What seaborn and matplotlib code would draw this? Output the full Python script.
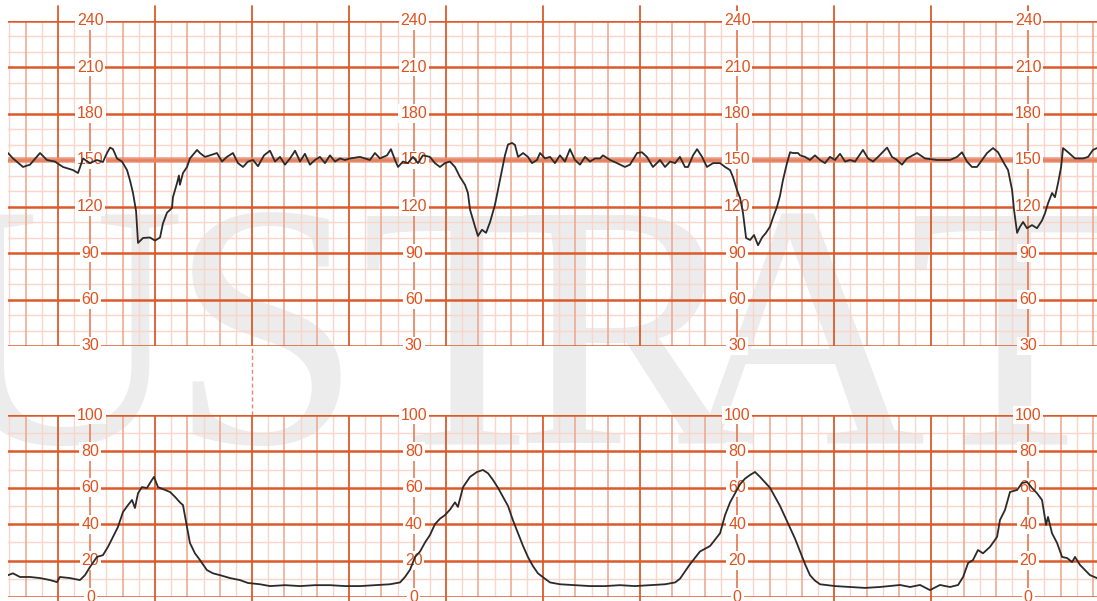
import numpy as np
import pandas as pd
import matplotlib
matplotlib.use("Agg")
import matplotlib.pyplot as plt
import seaborn as sns

# ---------------- data ----------------
fhr_time = [-30.9, -27.8, -21.6, -17.3, -11.1, -6.8, -1.9, 3.1, 9.3, 12.4, 15.5, 19.8, 24.1, 27.8,
            30.3, 32.2, 34.0, 36.5, 39.6, 42.7, 44.5, 46.4, 48.3, 49.5, 52.6, 56.9, 60.0, 63.1,
            64.9, 67.4, 70.5, 71.1, 73.6, 74.8, 75.4, 77.3, 79.8, 81.6, 86.0, 87.8, 90.9, 94.0,
            98.3, 101.4, 104.5, 108.2, 111.3, 114.4, 117.5, 120.6, 123.7, 127.4, 131.1, 134.2,
            137.3, 140.4, 143.5, 146.6, 149.7, 152.7, 155.8, 158.9, 162.0, 165.1, 168.2, 171.3,
            174.4, 177.5, 180.6, 186.8, 192.9, 196.0, 199.1, 203.5, 205.9, 208.4, 210.3, 213.3,
            216.4, 219.5, 222.6, 225.7, 230.0, 233.1, 236.2, 239.3, 242.4, 245.5, 248.6, 251.7,
            253.5, 254.8, 257.9, 259.7, 262.2, 264.7, 267.2, 270.2, 273.3, 276.4, 278.3, 280.8,
            282.6, 284.5, 287.6, 290.6, 293.1, 296.2, 298.1, 301.2, 304.3, 307.3, 310.4, 313.5,
            316.6, 319.7, 322.8, 325.9, 329.0, 332.1, 335.2, 337.0, 341.4, 345.7, 350.6, 353.7,
            358.1, 361.1, 364.2, 367.9, 372.3, 375.4, 378.5, 381.6, 384.6, 387.7, 389.6, 392.7,
            395.2, 398.3, 401.3, 405.1, 409.4, 412.5, 415.6, 417.4, 419.9, 421.8, 423.6, 425.5,
            428.0, 430.4, 432.9, 435.4, 437.8, 440.3, 442.2, 444.6, 446.5, 448.3, 450.8, 452.7,
            454.5, 457.6, 458.9, 462.0, 465.0, 468.1, 471.2, 474.3, 477.4, 480.5, 483.6, 486.7,
            489.8, 492.9, 497.8, 500.9, 504.0, 507.1, 512.7, 515.7, 518.8, 521.9, 525.0, 531.2,
            536.2, 543.6, 551.6, 556.0, 559.0, 562.1, 565.2, 568.3, 571.4, 574.5, 578.2, 581.3,
            584.4, 587.5, 590.0, 591.2, 593.1, 594.9, 596.8, 599.2, 602.3, 605.4, 608.5, 610.4,
            612.2, 614.7, 616.5, 618.4, 620.3, 621.5, 624.6, 628.9, 633.9, 637.0, 640.0, 642.5]
fhr_bpm = [154.5, 151, 145.5, 147, 154.5, 150, 149, 145.5, 143.5, 141.6, 151, 148, 150, 148.7,
           154.5, 158, 157, 151, 149, 143.5, 137, 128.7, 117, 96.5, 99.7, 100, 98, 100,
           109, 116, 119, 126, 135, 140, 134, 141.6, 145.5, 151, 156.5, 154.5, 152, 153,
           154.5, 149, 152, 154.5, 148, 145.5, 149, 150, 146, 153, 156, 149,
           152, 147, 151, 156, 149, 154, 147, 150, 152, 148, 153, 149,
           151, 150, 151, 152, 150, 154.5, 151, 153, 157, 150, 145.5, 149,
           148, 152, 148, 153, 152, 148, 145.5, 148, 149, 145.5, 139, 134,
           128.7, 118, 107, 101, 105, 103, 110, 121, 137, 153, 160, 161,
           159.7, 152, 154.5, 152, 148, 150, 154.5, 151, 152, 148, 153, 149,
           157, 150, 147, 152, 149, 151, 151, 153, 150, 148, 145.5, 147,
           154.5, 155, 152, 145.5, 150, 145.5, 149, 148, 152, 145.5, 145.5, 153,
           157, 152, 145.5, 148, 148, 145.5, 143.5, 139, 130.6, 125.5, 115.8, 99.7,
           98.4, 101.6, 95, 100, 103, 107, 113, 119.7, 127, 137, 148, 155,
           154.5, 154.5, 153, 152, 150, 153, 150, 148, 152, 150, 154, 149,
           150, 149, 156.5, 151, 149, 152, 158, 152, 150, 147, 151, 154.5,
           151, 150, 150, 152, 155, 149, 145.5, 145.5, 150, 154.5, 157.7, 155,
           149, 143.5, 130.6, 117.7, 103, 107, 110, 106, 108, 106, 111, 115.8,
           122, 128.7, 126, 135, 145.5, 157.7, 155, 151, 151, 152, 156.5, 157.7]

toco_time = [-30.9, -27.8, -23.5, -17.3, -11.1, -4.9, -0.6, 1.2, 7.4, 13.6, 16.7, 19.8, 24.1,
             27.8, 30.9, 34.0, 37.1, 40.2, 43.3, 45.8, 47.6, 49.5, 51.9, 55.0, 58.1, 59.4,
             61.8, 66.2, 69.3, 72.4, 75.4, 77.3, 79.8, 81.6, 84.7, 87.8, 92.1, 95.9, 100.2,
             106.4, 112.5, 117.5, 124.9, 131.1, 140.4, 149.7, 158.9, 168.2, 177.5, 186.8,
             196.0, 205.3, 211.5, 214.6, 217.7, 220.8, 223.9, 227.0, 230.0, 233.1, 236.2,
             239.3, 242.4, 245.5, 247.3, 250.5, 254.8, 259.1, 262.8, 265.9, 269.0, 272.1,
             275.2, 278.3, 281.4, 284.5, 287.6, 290.6, 293.7, 296.8, 301.2, 304.3, 310.4,
             319.7, 329.0, 338.3, 347.5, 356.8, 366.1, 375.4, 381.6, 384.6, 390.8, 397.0,
             403.2, 409.4, 412.5, 415.6, 418.7, 421.8, 424.8, 427.9, 431.0, 434.1, 437.2,
             440.3, 443.4, 446.5, 449.6, 452.7, 455.8, 458.9, 462.0, 465.0, 468.1, 471.2,
             480.5, 489.8, 499.0, 508.3, 520.7, 526.9, 533.1, 539.2, 545.4, 551.6, 556.6,
             559.7, 562.8, 565.8, 568.9, 572.0, 576.3, 580.7, 582.5, 585.6, 588.7, 593.1,
             596.1, 599.2, 602.3, 605.4, 608.5, 611.0, 612.2, 614.7, 617.8, 620.9, 624.0,
             627.1, 628.9, 632.0, 635.1, 638.2, 642.5]
toco_mmhg = [12, 13, 11, 11, 10.4, 9.3, 8.2, 11, 10.4, 9.3, 12, 16.5, 22,
             23, 27.5, 33, 38.5, 46.7, 50.5, 53.3, 48.9, 57, 60.4, 59.9, 64.3, 66,
             60.4, 58.8, 57.7, 55, 52, 50.5, 38.5, 29.7, 24, 20.3, 14.8, 13, 12,
             10.4, 9.3, 7.7, 7, 6, 6.5, 6, 6.5, 6.5, 6, 6,
             6.5, 7, 8, 11, 15, 22, 25, 30, 34, 40, 43,
             45, 48, 52, 49.5, 60.4, 66, 68.7, 69.8, 68, 64.3, 60,
             55, 50, 42, 35, 28, 22, 17, 13, 10, 8, 7,
             6.5, 6, 6, 6.5, 6, 6.5, 7, 8, 10, 18, 25,
             28, 35, 45, 52, 57, 62, 65, 67, 68.7, 66, 63,
             60, 55, 50, 44, 38, 32, 25, 18, 12, 9, 7,
             6, 5.5, 5, 5.5, 6.6, 5.5, 6.6, 3.8, 6.6, 5.5, 6.6,
             11, 18.7, 20.3, 25.8, 24, 27.5, 33, 42.3, 47.8, 57.7, 58.8,
             62.6, 63.2, 59.9, 57, 53.3, 39.6, 44, 35, 29.7, 22, 21.4,
             19.2, 22, 17.6, 14.8, 12, 10.4]

fhr_labels = [240, 210, 180, 150, 120, 90, 60, 30]
toco_labels = [100, 80, 60, 40, 20, 0]
label_columns = [20, 220, 420, 600]          # seconds
watermark_letters = ["U", "S", "T", "R", "A", "T"]

# ---------------- styling ----------------
sns.set_theme(style="white")
plt.rcParams['font.family'] = ['Liberation Sans', 'DejaVu Sans']

MAJOR = "#dc5a2a"
MEDIUM = "#eeab93"
MINOR = "#f8d6ca"
LABEL = "#e0521e"
BAND = "#e8896a"
TRACE = "#2a2a2a"

W, H = 1097, 601
fig = plt.figure(figsize=(W / 100, H / 100), dpi=100)
fig.patch.set_facecolor("white")

ax_top = fig.add_axes([8 / W, (H - 346) / H, 1089 / W, 325.5 / H])
ax_bot = fig.add_axes([8 / W, (H - 597) / H, 1089 / W, 182 / H])

XMIN, XMAX = -30.9, 642.5

# watermark
wm_x = [60, 265, 467, 630, 800, 1015]
for ch, px in zip(watermark_letters, wm_x):
    fig.text(px / W, (H - 443) / H, ch, family="Liberation Serif", fontsize=250,
             color="#ececec", ha="center", va="baseline", zorder=-5)


def draw_grid(ax, ymin, ymax, major_step, minor_step):
    ax.set_facecolor("none")
    ax.set_xlim(XMIN, XMAX)
    ax.set_ylim(ymin, ymax)
    for s in ax.spines.values():
        s.set_visible(False)
    ax.set_xticks([])
    ax.set_yticks([])
    # vertical lines
    for t in np.arange(-30, XMAX + 1, 10):
        if t % 60 == 0:
            ax.axvline(t, color=MAJOR, lw=1.3, zorder=3)
        elif t % 20 == 0:
            ax.axvline(t, color=MEDIUM, lw=1.2, zorder=2)
        else:
            ax.axvline(t, color=MINOR, lw=1.0, zorder=1)
    # horizontal lines
    for v in np.arange(ymin, ymax + 0.1, minor_step):
        if v % major_step == 0:
            ax.axhline(v, color=MAJOR, lw=1.8, zorder=3)
        else:
            ax.axhline(v, color=MINOR, lw=1.0, zorder=1)


draw_grid(ax_top, 30, 240, 30, 10)
draw_grid(ax_bot, 0, 100, 20, 10)

# highlighted 150 bpm band
ax_top.axhline(150, color=BAND, lw=4.0, alpha=0.85, zorder=3.5)

# major lines sticking out above the top panel / below the bottom panel
for t in np.arange(0, XMAX + 1, 60):
    ax_top.axvline(t, ymin=1.0, ymax=1.0 + 15 / 325.5, color=MAJOR, lw=1.3, clip_on=False)
    ax_bot.axvline(t, ymin=-4 / 182, ymax=0.0, color=MAJOR, lw=1.3, clip_on=False)
# dashed connector between panels
ax_top.axvline(120, ymin=-69 / 325.5, ymax=0.0, color=BAND, lw=1.0, ls=(0, (3, 2)),
               clip_on=False)

# label columns
for ax, labels in ((ax_top, fhr_labels), (ax_bot, toco_labels)):
    for c in label_columns:
        ax.axvline(c, color="#e88f70", lw=1.3, zorder=3)
        for v in labels:
            ax.text(c, v, str(v), ha="center", va="center", fontsize=11.5, color=LABEL,
                    zorder=5, bbox=dict(boxstyle="square,pad=0.12", fc="white", ec="none"))

# traces
fhr = pd.DataFrame({"t": fhr_time, "bpm": fhr_bpm})
toco = pd.DataFrame({"t": toco_time, "mmhg": toco_mmhg})
sns.lineplot(data=fhr, x="t", y="bpm", ax=ax_top, color=TRACE, lw=1.3, sort=False,
             estimator=None, zorder=10)
sns.lineplot(data=toco, x="t", y="mmhg", ax=ax_bot, color=TRACE, lw=1.3, sort=False,
             estimator=None, zorder=10)
for ax in (ax_top, ax_bot):
    ax.set_xlabel("")
    ax.set_ylabel("")

fig.savefig("out.png", dpi=100)
